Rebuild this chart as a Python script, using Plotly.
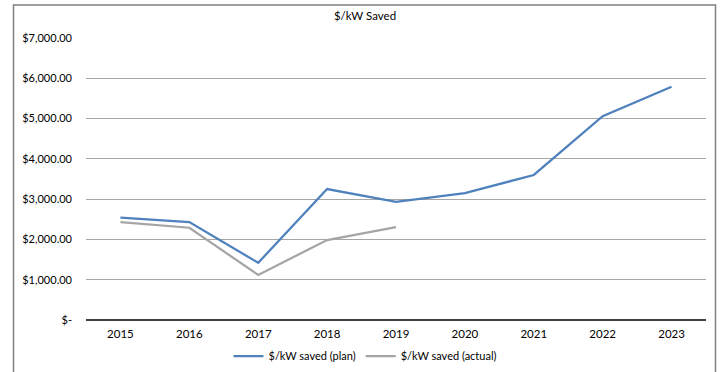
import plotly.graph_objects as go

years = ["2015", "2016", "2017", "2018", "2019", "2020", "2021", "2022", "2023"]
plan = [2540, 2430, 1420, 3250, 2930, 3150, 3600, 5060, 5790]
actual_years = ["2015", "2016", "2017", "2018", "2019"]
actual = [2430, 2290, 1120, 1985, 2305]
y_ticks = [0, 1000, 2000, 3000, 4000, 5000, 6000, 7000]
y_labels = ["$-", "$1,000.00", "$2,000.00", "$3,000.00", "$4,000.00",
            "$5,000.00", "$6,000.00", "$7,000.00"]

FONT = "Lato, Calibri, sans-serif"

fig = go.Figure()
fig.add_trace(go.Scatter(x=years, y=plan, mode="lines", name="$/kW saved (plan)",
                         line=dict(color="#4F81BD", width=2.25)))
fig.add_trace(go.Scatter(x=actual_years, y=actual, mode="lines", name="$/kW saved (actual)",
                         line=dict(color="#A5A5A5", width=2.25)))

W, H = 721, 372
L, R, T, B = 86, 15, 38, 52
pw, ph = W - L - R, H - T - B

def px_x(px):
    return (px - L) / pw

def px_y(py):
    return (H - B - py) / ph

TOP = 5
fig.update_layout(
    width=W, height=H,
    margin=dict(l=L, r=R, t=T, b=B, autoexpand=False),
    paper_bgcolor="white", plot_bgcolor="white",
    font=dict(family=FONT, size=11, color="#000000"),
    title=dict(text="$/kW Saved", xref="container", x=365 / W, xanchor="center",
               yref="container", y=1 - 16 / H, yanchor="middle",
               font=dict(size=11.5, family=FONT)),
    showlegend=True,
    legend=dict(orientation="h", x=px_x(365), xanchor="center", y=px_y(356),
                yanchor="middle", font=dict(size=11, family=FONT),
                itemwidth=30, bgcolor="rgba(0,0,0,0)"),
    xaxis=dict(type="category", categoryorder="array", categoryarray=years,
               range=[-0.5, len(years) - 0.5], showgrid=False, showline=False,
               ticks="", tickfont=dict(size=11.5, family=FONT), ticklabelstandoff=5),
    yaxis=dict(range=[0, 7000], tickvals=y_ticks, ticktext=y_labels,
               showgrid=True, gridcolor="#A6A6A6", gridwidth=1,
               zeroline=True, zerolinecolor="#404040", zerolinewidth=1.5,
               ticks="", tickfont=dict(size=11, family=FONT), ticklabelstandoff=13),
    shapes=[
        # chart frame: left, right and top edges
        dict(type="path", xref="paper", yref="paper",
             path=(f"M {px_x(13.5)},{px_y(400)} L {px_x(13.5)},{px_y(TOP)} "
                   f"L {px_x(715.5)},{px_y(TOP)} L {px_x(715.5)},{px_y(400)}"),
             line=dict(color="#7F7F7F", width=1.5)),
    ],
)

fig.write_html("out.html")
